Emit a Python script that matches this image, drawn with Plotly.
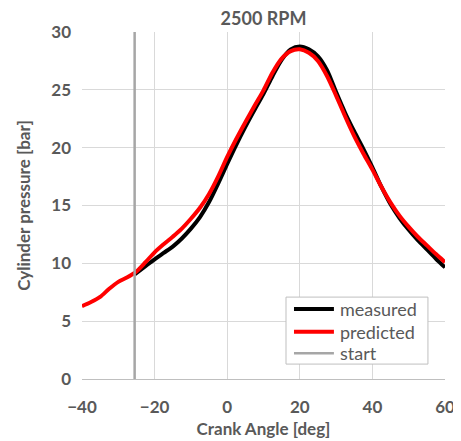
import plotly.graph_objects as go

# Predicted cylinder pressure
pred_angle = [-40, -37.5, -35, -32.5, -30, -27.5, -25, -22.5, -20, -17.5, -15, -12.5, -10, -7.5,
              -5, -2.5, 0, 2.5, 5, 7.5, 10, 12.5, 15, 17.5, 20, 22.5, 25, 27.5, 30, 32.5, 35,
              37.5, 40, 42.5, 45, 47.5, 50, 52.5, 55, 57.5, 60]
pred_pressure = [6.3, 6.65, 7.1, 7.8, 8.4, 8.8, 9.3, 10.1, 10.95, 11.65, 12.3, 13.0, 13.85, 14.8,
                 16.0, 17.5, 19.2, 20.75, 22.2, 23.6, 24.95, 26.5, 27.7, 28.35, 28.5, 28.2, 27.5,
                 26.2, 24.5, 22.7, 21.0, 19.5, 18.1, 16.6, 15.25, 14.1, 13.15, 12.3, 11.55, 10.8, 10.1]

# Measured cylinder pressure
meas_angle = [-25.5, -22.5, -20, -17.5, -15, -12.5, -10, -7.5, -5, -2.5, 0, 2.5, 5, 7.5, 10,
              12.5, 15, 17.5, 20, 22.5, 25, 27.5, 30, 32.5, 35, 37.5, 40, 42.5, 45, 47.5, 50,
              52.5, 55, 57.5, 60]
meas_pressure = [9.05, 9.75, 10.35, 10.9, 11.45, 12.15, 13.0, 14.0, 15.3, 16.9, 18.6, 20.25, 21.8,
                 23.25, 24.65, 26.2, 27.6, 28.5, 28.75, 28.5, 27.9, 26.7, 24.8, 23.0, 21.4, 19.9,
                 18.3, 16.6, 15.1, 13.9, 12.9, 12.0, 11.2, 10.4, 9.65]

start_angle = -25.5
y_range = [0, 30]
x_ticks = [-40, -20, 0, 20, 40, 60]
y_ticks = [0, 5, 10, 15, 20, 25, 30]
series_names = ["measured", "predicted", "start"]
series_colors = ["black", "#ff0000", "#a6a6a6"]
series_widths = [4, 4, 2.5]

FONT = "Lato"
GRAY = "#595959"

fig = go.Figure()
fig.add_trace(go.Scatter(x=meas_angle, y=meas_pressure, mode="lines", name=series_names[0],
                         line=dict(color=series_colors[0], width=series_widths[0],
                                   shape="spline", smoothing=0.8)))
fig.add_trace(go.Scatter(x=pred_angle, y=pred_pressure, mode="lines", name=series_names[1],
                         line=dict(color=series_colors[1], width=series_widths[1],
                                   shape="spline", smoothing=0.8)))
fig.add_trace(go.Scatter(x=[start_angle, start_angle], y=y_range, mode="lines", name=series_names[2],
                         line=dict(color=series_colors[2], width=series_widths[2])))

# Legend box drawn in paper coordinates (Excel-style compact legend)
shapes = [dict(type="rect", xref="paper", yref="paper", x0=0.562, x1=0.953, y0=0.043, y1=0.236,
               line=dict(color="#bfbfbf", width=1), fillcolor="white", layer="above")]
annotations = []
row_y = [0.2017, 0.1363, 0.0741]
for name, col, w, yy in zip(series_names, series_colors, series_widths, row_y):
    shapes.append(dict(type="line", xref="paper", yref="paper", x0=0.584, x1=0.694, y0=yy, y1=yy,
                       line=dict(color=col, width=w), layer="above"))
    annotations.append(dict(xref="paper", yref="paper", x=0.705, y=yy, xanchor="left",
                            yanchor="middle", text=name, showarrow=False,
                            font=dict(size=18, color=GRAY, family=FONT)))

fig.update_layout(
    width=453, height=433,
    margin=dict(l=74, r=16, t=24, b=62, autoexpand=False),
    paper_bgcolor="white", plot_bgcolor="white",
    font=dict(family=FONT, color=GRAY),
    title=dict(text="2500 RPM", x=255.5 / 453, xanchor="center",
               y=1 - 11 / 433, yanchor="middle", automargin=False,
               font=dict(size=18, color=GRAY, family=FONT, weight="bold")),
    showlegend=False,
    shapes=shapes,
    annotations=annotations,
    xaxis=dict(range=[-40, 60], tickvals=x_ticks, showgrid=True, gridcolor="#d9d9d9",
               gridwidth=1, zeroline=False, showline=True, linecolor="#bfbfbf", mirror=False,
               automargin=False,
               tickfont=dict(size=17, color=GRAY, family=FONT, weight="bold"), ticklabelstandoff=13,
               title=dict(text="Crank Angle [deg]",
                          font=dict(size=17, color=GRAY, family=FONT, weight="bold"),
                          standoff=6)),
    yaxis=dict(range=y_range, tickvals=y_ticks, showgrid=True, gridcolor="#d9d9d9",
               gridwidth=1, zeroline=False, showline=False, automargin=False,
               tickfont=dict(size=17, color=GRAY, family=FONT, weight="bold"), ticklabelstandoff=10,
               title=dict(text="Cylinder pressure [bar]",
                          font=dict(size=17, color=GRAY, family=FONT, weight="bold"),
                          standoff=16)),
)

fig.write_html("out.html")
